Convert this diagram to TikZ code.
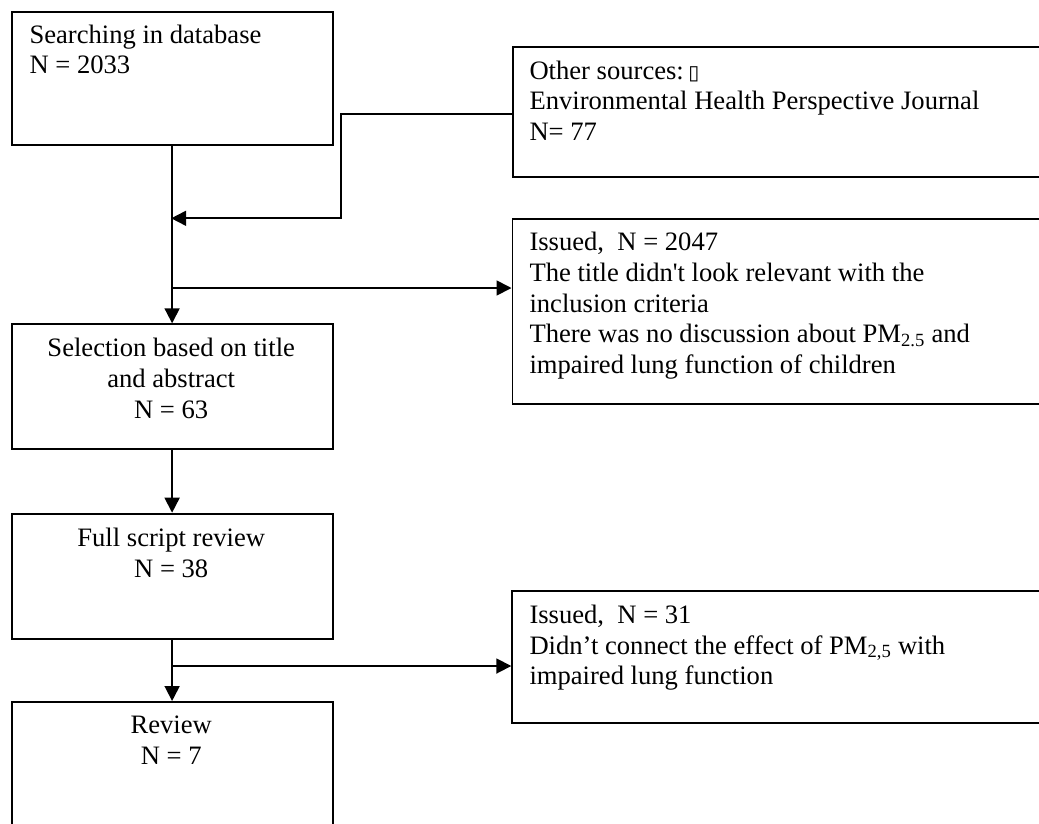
\documentclass[tikz,border=0pt]{standalone}
\usepackage{fontspec}
\setmainfont{Liberation Serif}
\newfontfamily\symf{DejaVu Sans}
\usetikzlibrary{arrows.meta}
\begin{document}
\begin{tikzpicture}[x=1pt,y=-1pt,
  box/.style={draw, line width=1.8pt, rectangle, inner sep=0pt, anchor=north west},
  txt/.style={inner sep=0pt, font=\fontsize{26.6}{30.6}\selectfont},
  conn/.style={line width=1.8pt},
  arr/.style={conn, -{Triangle[length=15pt,width=15pt]}}]
\useasboundingbox (0,0) rectangle (1039,823);
% boxes
\node[box, minimum width=321pt, minimum height=133.3pt] (b1) at (10.7,10.7) {};
\node[box, minimum width=535pt, minimum height=130pt] (b2) at (511.7,45.7) {};
\node[box, minimum width=535pt, minimum height=185pt] (b3) at (511.5,218.3) {};
\node[box, minimum width=321pt, minimum height=125pt] (b4) at (10.7,323.3) {};
\node[box, minimum width=321pt, minimum height=125.6pt] (b5) at (10.7,512.7) {};
\node[box, minimum width=535pt, minimum height=131.7pt] (b6) at (511.3,590) {};
\node[box, minimum width=321pt, minimum height=135pt] (b7) at (10.7,701) {};
% texts
\node[txt, anchor=north west, align=left] (t1) at (29.3,21.6) {\strut Searching in database\\N = 2033};
\node[txt, anchor=north west, align=left] (t2) at (529.3,57.6) {\strut Other sources:\,{\symf\fontsize{20}{20}\selectfont ▯}\\Environmental Health Perspective Journal\\N= 77};
\node[txt, anchor=north west, align=left] (t3) at (529.3,229.3) {\strut Issued,\ \ N = 2047\\The title didn\textquotesingle t look relevant with the\\inclusion criteria\\There was no discussion about PM\textsubscript{2.5} and\\impaired lung function of children};
\node[txt, anchor=north, align=center] (t4) at (171.2,335.3) {\strut Selection based on title\\and abstract\\N = 63};
\node[txt, anchor=north, align=center] (t5) at (171.2,525.3) {\strut Full script review\\N = 38};
\node[txt, anchor=north west, align=left] (t6) at (529.3,601.9) {\strut Issued,\ \ N = 31\\Didn’t connect the effect of PM\textsubscript{2,5} with\\impaired lung function};
\node[txt, anchor=north, align=center] (t7) at (171.2,711.9) {\strut Review\\N = 7};
% junctions
\coordinate (k) at (341,114.3);
\coordinate (m1) at (171.2,218.3);
\coordinate (m2) at (171.2,288);
\coordinate (m3) at (171.2,666);
% connectors
\draw[arr] (b1.south) -- (b4.north);
\draw[arr] (b2.west |- k) -- (k) |- (m1);
\draw[arr] (m2) -- (b3.west |- m2);
\draw[arr] (b4.south) -- (b5.north);
\draw[arr] (b5.south) -- (b7.north);
\draw[arr] (m3) -- (b6.west |- m3);
\end{tikzpicture}
\end{document}
